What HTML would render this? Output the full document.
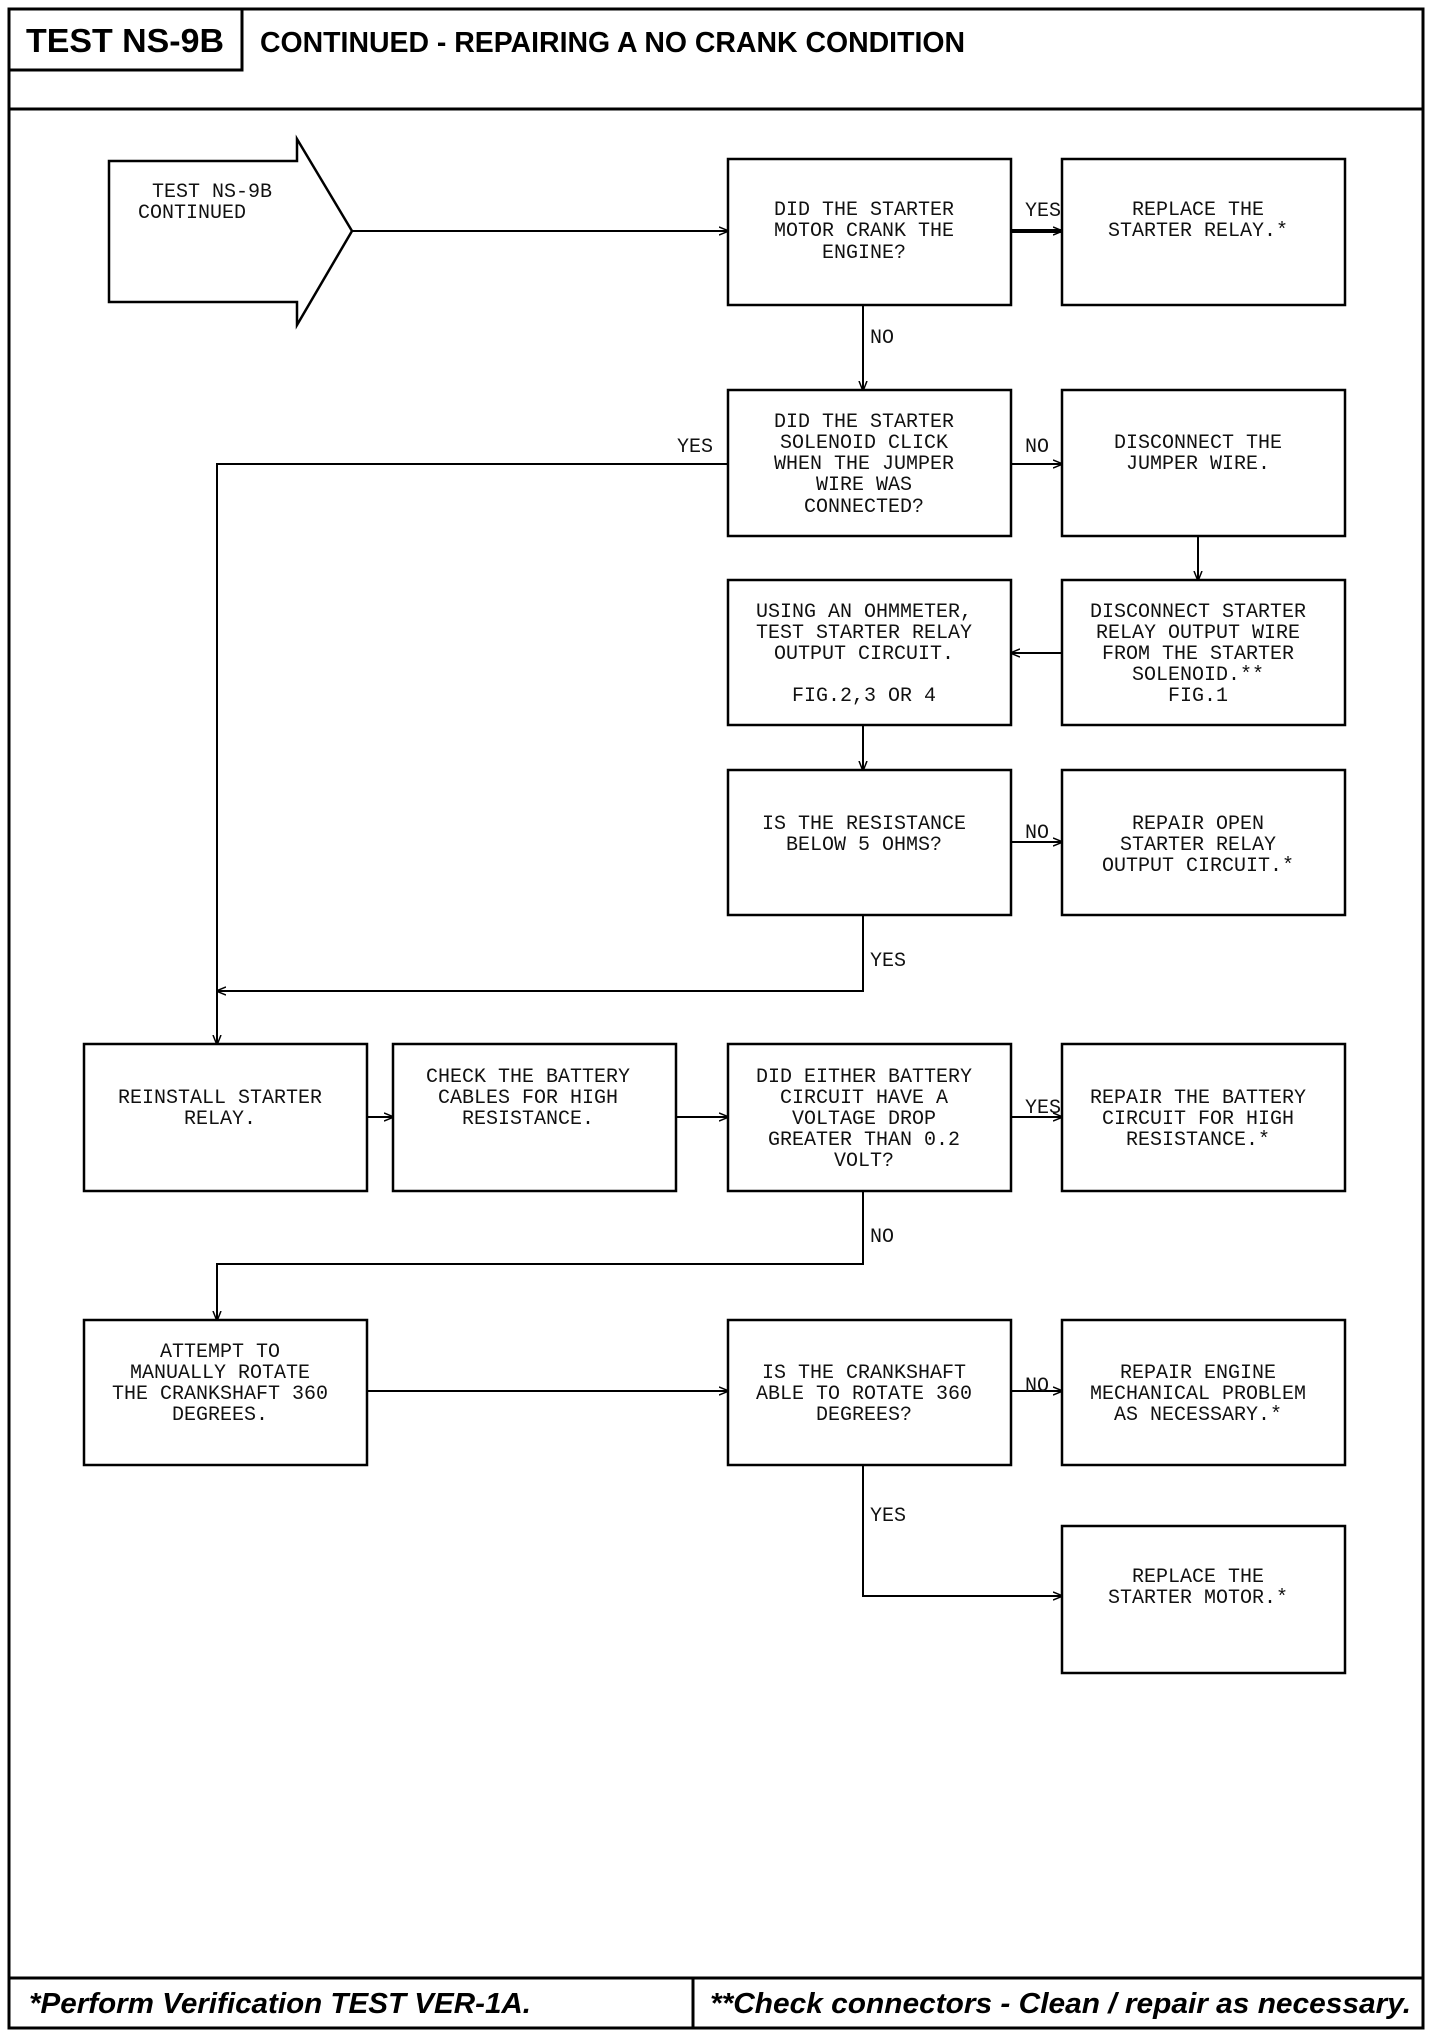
<!DOCTYPE html>
<html><head><meta charset="utf-8"><style>
html,body{margin:0;padding:0;background:#fff;}
svg{display:block;}
.t{font-family:"Liberation Mono",monospace;font-size:20px;fill:#111;text-anchor:middle;}
.l{font-family:"Liberation Mono",monospace;font-size:20px;fill:#111;}
.h{font-family:"Liberation Sans",sans-serif;font-weight:bold;}
</style></head><body>
<svg width="1440" height="2034" viewBox="0 0 1440 2034" xmlns="http://www.w3.org/2000/svg">
<defs><marker id="a" markerWidth="10" markerHeight="10" refX="9" refY="5" orient="auto" markerUnits="userSpaceOnUse"><path d="M0,1 L10,5 L0,9" fill="none" stroke="#000" stroke-width="1.5"/></marker></defs>
<g fill="none" stroke="#000" stroke-width="3">
<rect x="9" y="9" width="1414" height="2019"/>
<line x1="9" y1="109" x2="1423" y2="109"/>
<rect x="9" y="9" width="233" height="61"/>
<line x1="9" y1="1978" x2="1423" y2="1978"/>
<line x1="693" y1="1978" x2="693" y2="2028"/>
</g>
<text class="h" x="26" y="52" font-size="33" textLength="198" lengthAdjust="spacingAndGlyphs">TEST NS-9B</text>
<text class="h" x="260" y="52" font-size="29" textLength="705" lengthAdjust="spacingAndGlyphs">CONTINUED - REPAIRING A NO CRANK CONDITION</text>
<text class="h" x="29" y="2013" font-size="29" font-style="italic" textLength="502" lengthAdjust="spacingAndGlyphs">*Perform Verification TEST VER-1A.</text>
<text class="h" x="710" y="2013" font-size="29" font-style="italic" textLength="701" lengthAdjust="spacingAndGlyphs">**Check connectors - Clean / repair as necessary.</text>

<g fill="none" stroke="#000" stroke-width="2.5">
<path d="M109,161 L297,161 L297,139 L352,231 L297,325 L297,302 L109,302 Z"/>
<rect x="728" y="159" width="283" height="146"/>
<rect x="1062" y="159" width="283" height="146"/>
<rect x="728" y="390" width="283" height="146"/>
<rect x="1062" y="390" width="283" height="146"/>
<rect x="728" y="580" width="283" height="145"/>
<rect x="1062" y="580" width="283" height="145"/>
<rect x="728" y="770" width="283" height="145"/>
<rect x="1062" y="770" width="283" height="145"/>
<rect x="84" y="1044" width="283" height="147"/>
<rect x="393" y="1044" width="283" height="147"/>
<rect x="728" y="1044" width="283" height="147"/>
<rect x="1062" y="1044" width="283" height="147"/>
<rect x="84" y="1320" width="283" height="145"/>
<rect x="728" y="1320" width="283" height="145"/>
<rect x="1062" y="1320" width="283" height="145"/>
<rect x="1062" y="1526" width="283" height="147"/>
</g>
<g fill="none" stroke="#000" stroke-width="2" marker-end="url(#a)">
<line x1="352" y1="231" x2="728" y2="231"/>
<line x1="1011" y1="231" x2="1062" y2="231" stroke-width="4"/>
<line x1="863" y1="305" x2="863" y2="390"/>
<polyline points="728,464 217,464 217,1044"/>
<line x1="1011" y1="464" x2="1062" y2="464"/>
<line x1="1198" y1="536" x2="1198" y2="580"/>
<line x1="1062" y1="653" x2="1011" y2="653"/>
<line x1="863" y1="725" x2="863" y2="770"/>
<line x1="1011" y1="842" x2="1062" y2="842"/>
<polyline points="863,915 863,991 217,991"/>
<line x1="367" y1="1117" x2="393" y2="1117"/>
<line x1="676" y1="1117" x2="728" y2="1117"/>
<line x1="1011" y1="1117" x2="1062" y2="1117"/>
<polyline points="863,1191 863,1264 217,1264 217,1320"/>
<line x1="367" y1="1391" x2="728" y2="1391"/>
<line x1="1011" y1="1391" x2="1062" y2="1391"/>
<polyline points="863,1465 863,1596 1062,1596"/>
</g>
<g class="l">
<text x="1025" y="216">YES</text>
<text x="870" y="343">NO</text>
<text x="677" y="452">YES</text>
<text x="1025" y="452">NO</text>
<text x="1025" y="838">NO</text>
<text x="870" y="966">YES</text>
<text x="1025" y="1113">YES</text>
<text x="870" y="1242">NO</text>
<text x="1025" y="1391">NO</text>
<text x="870" y="1521">YES</text>
</g>
<g class="t">
<text x="212" y="197">TEST NS-9B</text>
<text x="192" y="218">CONTINUED</text>
<text x="864" y="215">DID THE STARTER</text><text x="864" y="236">MOTOR CRANK THE</text><text x="864" y="258">ENGINE?</text>
<text x="1198" y="215">REPLACE THE</text><text x="1198" y="236">STARTER RELAY.*</text>
<text x="864" y="427">DID THE STARTER</text><text x="864" y="448">SOLENOID CLICK</text><text x="864" y="469">WHEN THE JUMPER</text><text x="864" y="490">WIRE WAS</text><text x="864" y="512">CONNECTED?</text>
<text x="1198" y="448">DISCONNECT THE</text><text x="1198" y="469">JUMPER WIRE.</text>
<text x="864" y="617">USING AN OHMMETER,</text><text x="864" y="638">TEST STARTER RELAY</text><text x="864" y="659">OUTPUT CIRCUIT.</text><text x="864" y="701">FIG.2,3 OR 4</text>
<text x="1198" y="617">DISCONNECT STARTER</text><text x="1198" y="638">RELAY OUTPUT WIRE</text><text x="1198" y="659">FROM THE STARTER</text><text x="1198" y="680">SOLENOID.**</text><text x="1198" y="701">FIG.1</text>
<text x="864" y="829">IS THE RESISTANCE</text><text x="864" y="850">BELOW 5 OHMS?</text>
<text x="1198" y="829">REPAIR OPEN</text><text x="1198" y="850">STARTER RELAY</text><text x="1198" y="871">OUTPUT CIRCUIT.*</text>
<text x="220" y="1103">REINSTALL STARTER</text><text x="220" y="1124">RELAY.</text>
<text x="528" y="1082">CHECK THE BATTERY</text><text x="528" y="1103">CABLES FOR HIGH</text><text x="528" y="1124">RESISTANCE.</text>
<text x="864" y="1082">DID EITHER BATTERY</text><text x="864" y="1103">CIRCUIT HAVE A</text><text x="864" y="1124">VOLTAGE DROP</text><text x="864" y="1145">GREATER THAN 0.2</text><text x="864" y="1166">VOLT?</text>
<text x="1198" y="1103">REPAIR THE BATTERY</text><text x="1198" y="1124">CIRCUIT FOR HIGH</text><text x="1198" y="1145">RESISTANCE.*</text>
<text x="220" y="1357">ATTEMPT TO</text><text x="220" y="1378">MANUALLY ROTATE</text><text x="220" y="1399">THE CRANKSHAFT 360</text><text x="220" y="1420">DEGREES.</text>
<text x="864" y="1378">IS THE CRANKSHAFT</text><text x="864" y="1399">ABLE TO ROTATE 360</text><text x="864" y="1420">DEGREES?</text>
<text x="1198" y="1378">REPAIR ENGINE</text><text x="1198" y="1399">MECHANICAL PROBLEM</text><text x="1198" y="1420">AS NECESSARY.*</text>
<text x="1198" y="1582">REPLACE THE</text><text x="1198" y="1603">STARTER MOTOR.*</text>
</g>
</svg>
</body></html>
